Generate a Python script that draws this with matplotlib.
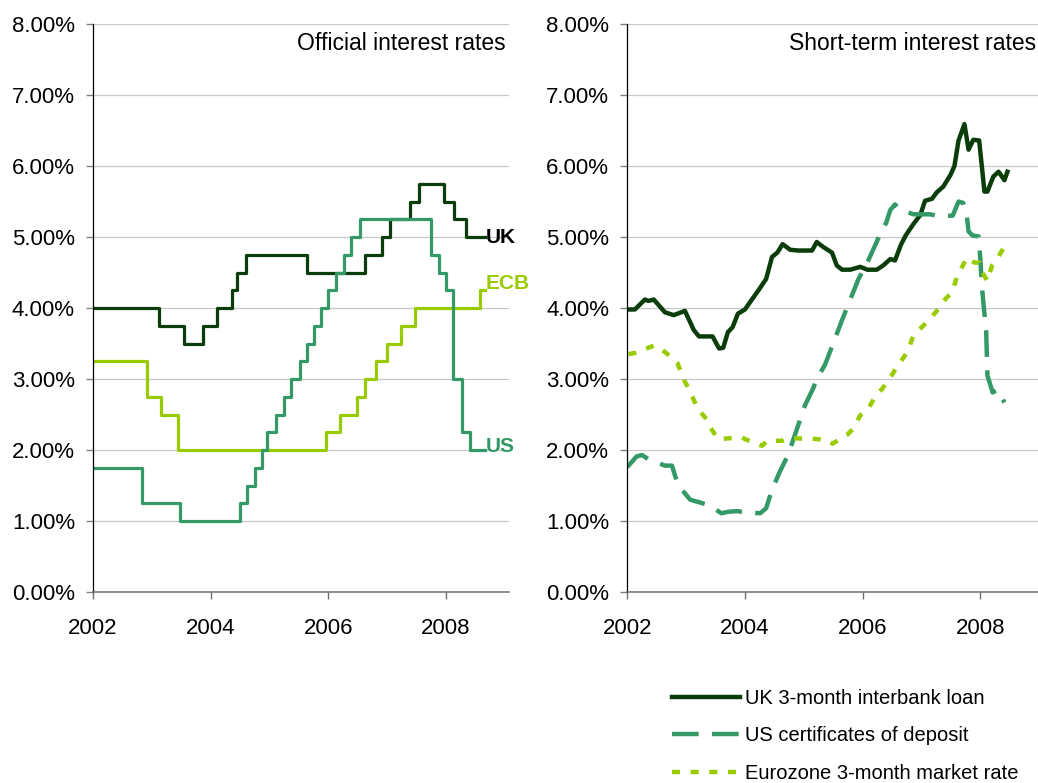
import matplotlib
matplotlib.use("Agg")
import matplotlib.pyplot as plt
from matplotlib.ticker import FuncFormatter, MultipleLocator

plt.rcParams["font.family"] = ["Liberation Sans", "DejaVu Sans"]

# ---- official rates (step changes: date, rate from that date) ----
uk_dates = [2002.0, 2003.12, 2003.54, 2003.87, 2004.11, 2004.36, 2004.44, 2004.60, 2005.63,
            2006.63, 2006.91, 2007.04, 2007.38, 2007.54, 2007.97, 2008.13, 2008.34, 2008.67]
uk_rates = [4.00, 3.75, 3.50, 3.75, 4.00, 4.25, 4.50, 4.75, 4.50,
            4.75, 5.00, 5.25, 5.50, 5.75, 5.50, 5.25, 5.00, 5.00]

ecb_dates = [2002.0, 2002.92, 2003.16, 2003.44, 2005.96, 2006.20, 2006.48, 2006.63, 2006.81,
             2006.99, 2007.24, 2007.48, 2008.57, 2008.67]
ecb_rates = [3.25, 2.75, 2.50, 2.00, 2.25, 2.50, 2.75, 3.00, 3.25,
             3.50, 3.75, 4.00, 4.25, 4.25]

us_dates = [2002.0, 2002.84, 2003.48, 2004.50, 2004.62, 2004.75, 2004.87, 2004.95, 2005.11,
            2005.24, 2005.36, 2005.51, 2005.63, 2005.75, 2005.87, 2006.00, 2006.13, 2006.27,
            2006.38, 2006.53, 2007.74, 2007.88, 2008.00, 2008.12, 2008.27, 2008.40, 2008.67]
us_rates = [1.75, 1.25, 1.00, 1.25, 1.50, 1.75, 2.00, 2.25, 2.50,
            2.75, 3.00, 3.25, 3.50, 3.75, 4.00, 4.25, 4.50, 4.75,
            5.00, 5.25, 4.75, 4.50, 4.25, 3.00, 2.25, 2.00, 2.00]

# ---- short-term market rates ----
uk3m_dates = [2002.01, 2002.13, 2002.30, 2002.36, 2002.45, 2002.64, 2002.79, 2002.98, 2003.13,
              2003.22, 2003.45, 2003.56, 2003.63, 2003.71, 2003.79, 2003.88, 2004.00, 2004.11,
              2004.23, 2004.36, 2004.46, 2004.55, 2004.64, 2004.77, 2004.91, 2005.14, 2005.22,
              2005.33, 2005.48, 2005.56, 2005.65, 2005.79, 2005.96, 2006.08, 2006.24, 2006.35,
              2006.47, 2006.55, 2006.65, 2006.73, 2006.86, 2006.98, 2007.06, 2007.18, 2007.26,
              2007.37, 2007.49, 2007.56, 2007.63, 2007.73, 2007.80, 2007.88, 2007.98, 2008.07,
              2008.12, 2008.22, 2008.31, 2008.41, 2008.46]
uk3m_vals = [3.98, 3.98, 4.12, 4.10, 4.12, 3.94, 3.90, 3.96, 3.69,
             3.60, 3.60, 3.43, 3.44, 3.66, 3.73, 3.92, 3.98, 4.11,
             4.25, 4.41, 4.72, 4.78, 4.90, 4.82, 4.81, 4.81, 4.93,
             4.86, 4.78, 4.60, 4.54, 4.54, 4.58, 4.54, 4.54, 4.60,
             4.69, 4.67, 4.89, 5.02, 5.18, 5.31, 5.51, 5.54, 5.63,
             5.71, 5.87, 6.00, 6.36, 6.59, 6.23, 6.37, 6.36, 5.64,
             5.64, 5.85, 5.92, 5.80, 5.92]

uscd_dates = [2002.00, 2002.16, 2002.25, 2002.36, 2002.64, 2002.76, 2002.86, 2003.07, 2003.24,
              2003.39, 2003.60, 2003.72, 2003.87, 2004.01, 2004.26, 2004.36, 2004.46, 2004.59,
              2004.69, 2004.77, 2005.02, 2005.16, 2005.22, 2005.36, 2005.48, 2005.65, 2005.78,
              2005.93, 2006.08, 2006.27, 2006.40, 2006.47, 2006.55, 2006.61, 2006.86, 2007.15,
              2007.25, 2007.53, 2007.63, 2007.71, 2007.77, 2007.80, 2007.87, 2007.97, 2008.00,
              2008.03, 2008.06, 2008.10, 2008.12, 2008.21, 2008.29, 2008.41]
uscd_vals = [1.76, 1.91, 1.93, 1.87, 1.78, 1.78, 1.51, 1.30, 1.26,
             1.22, 1.11, 1.13, 1.14, 1.12, 1.11, 1.18, 1.44, 1.69,
             1.86, 2.02, 2.63, 2.87, 3.00, 3.20, 3.46, 3.83, 4.10,
             4.41, 4.64, 4.99, 5.20, 5.38, 5.46, 5.40, 5.32, 5.32,
             5.30, 5.30, 5.50, 5.48, 5.30, 5.08, 5.02, 5.01, 4.69,
             4.27, 4.01, 3.66, 3.05, 2.81, 2.85, 2.67]

ez3m_dates = [2002.02, 2002.14, 2002.45, 2002.52, 2002.79, 2002.85, 2002.98, 2003.03, 2003.16,
              2003.22, 2003.37, 2003.40, 2003.55, 2003.66, 2003.94, 2004.04, 2004.29, 2004.38,
              2004.63, 2004.75, 2004.99, 2005.14, 2005.39, 2005.49, 2005.73, 2005.83, 2005.96,
              2006.08, 2006.24, 2006.33, 2006.50, 2006.55, 2006.71, 2006.78, 2006.86, 2007.15,
              2007.25, 2007.42, 2007.52, 2007.60, 2007.66, 2007.77, 2007.90, 2007.99, 2008.05,
              2008.12, 2008.20, 2008.29, 2008.45]
ez3m_vals = [3.35, 3.37, 3.47, 3.46, 3.28, 3.23, 2.96, 2.89, 2.65,
             2.56, 2.41, 2.33, 2.15, 2.16, 2.18, 2.14, 2.06, 2.13,
             2.13, 2.17, 2.16, 2.16, 2.14, 2.09, 2.21, 2.29, 2.49,
             2.56, 2.79, 2.86, 3.06, 3.13, 3.32, 3.42, 3.61, 3.85,
             3.95, 4.14, 4.22, 4.43, 4.53, 4.71, 4.64, 4.64, 4.48,
             4.38, 4.60, 4.70, 4.92]

year_ticks = [2002, 2004, 2006, 2008]

DARK = "#0b3d0b"
MID = "#339966"
LIME = "#99cc00"


def style_axes(ax, title, title_x):
    ax.set_xlim(2002, 2009.07)
    ax.set_ylim(0, 8)
    ax.yaxis.set_major_locator(MultipleLocator(1))
    ax.yaxis.set_major_formatter(FuncFormatter(lambda v, p: f"{v:.2f}%"))
    ax.set_xticks(year_ticks)
    ax.set_xticklabels([str(y) for y in year_ticks])
    ax.grid(axis="y", color="#c8c8c8", lw=0.9)
    ax.set_axisbelow(True)
    for s in ("top", "right"):
        ax.spines[s].set_visible(False)
    ax.spines["left"].set_color("black")
    ax.spines["left"].set_linewidth(0.9)
    ax.spines["bottom"].set_color("#707070")
    ax.spines["bottom"].set_linewidth(1.1)
    ax.tick_params(axis="y", length=5, width=1, color="#808080", labelsize=16, pad=8)
    ax.tick_params(axis="x", length=5, width=1, color="#707070", labelsize=16, pad=14)
    ax.text(title_x, 0.966, title, transform=ax.transAxes, ha="right", va="center", fontsize=16.5)


fig = plt.figure(figsize=(10.38, 7.83), dpi=100)
ax1 = fig.add_axes([0.0896, 0.2439, 0.4008, 0.7254])
ax2 = fig.add_axes([0.6043, 0.2439, 0.4008, 0.7254])

# left: official rates
ax1.step(uk_dates, uk_rates, where="post", color=DARK, lw=2.3)
ax1.step(ecb_dates, ecb_rates, where="post", color=LIME, lw=2.3)
ax1.step(us_dates, us_rates, where="post", color=MID, lw=2.3)
ax1.text(uk_dates[-1], uk_rates[-1], "UK", color="black", fontsize=15, fontweight="bold",
         ha="left", va="center")
ax1.text(ecb_dates[-1], ecb_rates[-1] + 0.1, "ECB", color=LIME, fontsize=15, fontweight="bold",
         ha="left", va="center")
ax1.text(us_dates[-1], us_rates[-1] + 0.05, "US", color=MID, fontsize=15, fontweight="bold",
         ha="left", va="center")
style_axes(ax1, "Official interest rates", 0.993)

# right: short-term rates
l1, = ax2.plot(uk3m_dates, uk3m_vals, color=DARK, lw=3.2, solid_joinstyle="round")
l2, = ax2.plot(uscd_dates, uscd_vals, color=MID, lw=3.2, dashes=(6, 3))
l3, = ax2.plot(ez3m_dates, ez3m_vals, color=LIME, lw=3.2, dashes=(1.8, 2.4))
style_axes(ax2, "Short-term interest rates", 0.982)

fig.legend([l1, l2, l3],
           ["UK 3-month interbank loan", "US certificates of deposit", "Eurozone 3-month market rate"],
           loc="upper left", bbox_to_anchor=(0.647, 0.1205), frameon=False, fontsize=14.5,
           handlelength=3.4, handletextpad=0.25, labelspacing=0.92, borderpad=0, borderaxespad=0)

fig.savefig("out.png", dpi=100, facecolor="white")
